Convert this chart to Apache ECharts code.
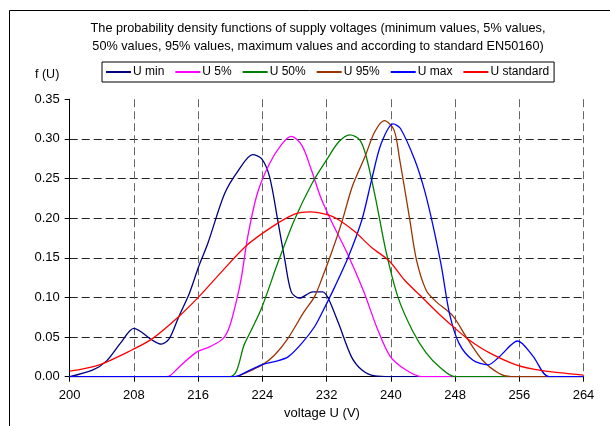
<!DOCTYPE html>
<html>
<head>
<meta charset="utf-8">
<script src="https://cdn.jsdelivr.net/npm/echarts@6/dist/echarts.min.js"></script>
<style>html,body{margin:0;padding:0;background:#fff;}#c{width:610px;height:426px;}</style>
</head>
<body>
<div id="c"></div>
<script>
const titleLines = ['The probability density functions of supply voltages (minimum values, 5% values,', '50% values, 95% values, maximum values and according to standard EN50160)'];
const xTicks = [200, 208, 216, 224, 232, 240, 248, 256, 264];
const yTicks = [0, 0.05, 0.10, 0.15, 0.20, 0.25, 0.30, 0.35];
const seriesNames = ['U min', 'U 5%', 'U 50%', 'U 95%', 'U max', 'U standard'];

const uMin = [[200,0],[202.9,0.0085],[204.6,0.020],[206.3,0.042],[208,0.061],[210.3,0.046],[211.4,0.041],[212.4,0.048],[213.6,0.076],[214.9,0.105],[216.1,0.140],[217.2,0.168],[219.3,0.231],[221,0.260],[222.8,0.280],[223.9,0.275],[224.9,0.252],[225.9,0.198],[226.8,0.147],[227.6,0.107],[228.6,0.099],[230.3,0.107],[231.5,0.107],[232.2,0.099],[233.5,0.067],[235.1,0.025],[236.4,0.0085],[238,0.001],[240,0],[264,0]];
const u5 = [[200,0],[212.1,0],[213.7,0.013],[215.8,0.031],[217.5,0.038],[219.1,0.048],[219.9,0.063],[220.8,0.097],[221.4,0.126],[222.2,0.178],[223.4,0.232],[224.9,0.269],[226.4,0.293],[227.6,0.303],[228.9,0.292],[230.1,0.261],[231.2,0.228],[232.6,0.196],[234.6,0.155],[236.6,0.108],[238.3,0.061],[239.9,0.026],[241.8,0.009],[243.8,0],[264,0]];
const u50 = [[200,0],[219.9,0],[221.8,0.042],[223.8,0.084],[225.9,0.143],[228,0.198],[230.2,0.244],[232.1,0.275],[233.5,0.296],[234.9,0.305],[236.1,0.299],[236.9,0.279],[238.1,0.225],[239.4,0.158],[240.9,0.100],[242.7,0.058],[244.4,0.030],[246.1,0.012],[248,0],[264,0]];
const u95 = [[200,0],[220.5,0],[222.2,0.006],[224.0,0.015],[225.5,0.027],[227.1,0.047],[229.2,0.082],[230.5,0.101],[231.5,0.126],[232.6,0.156],[233.9,0.195],[235.2,0.240],[236.8,0.278],[238.0,0.309],[239.2,0.323],[240.4,0.311],[241.1,0.274],[242.3,0.202],[243.2,0.147],[244.4,0.109],[245.6,0.095],[247.7,0.077],[249.4,0.050],[251.4,0.021],[253.5,0.004],[255,0],[264,0]];
const uMax = [[200,0],[220.5,0],[222.2,0.007],[223.9,0.015],[225.5,0.019],[227.2,0.025],[228.9,0.042],[230.5,0.063],[231.4,0.080],[233.0,0.113],[234.7,0.151],[236.4,0.198],[237.6,0.248],[238.8,0.294],[240.3,0.319],[241.2,0.313],[243.0,0.273],[244.2,0.235],[245.2,0.193],[246.3,0.139],[247.3,0.080],[248.5,0.042],[250.2,0.021],[252.1,0.015],[253.5,0.025],[255.8,0.045],[257.7,0.026],[259.7,0],[264,0]];
const uStd = [[200,0.007],[203.7,0.015],[207.8,0.034],[210.3,0.048],[213.6,0.076],[216.1,0.101],[218.8,0.131],[222.1,0.166],[225.2,0.189],[228,0.205],[230.0,0.208],[232.2,0.204],[233.5,0.198],[235.5,0.183],[237.6,0.163],[239.8,0.146],[241.7,0.122],[243.7,0.102],[245.9,0.080],[248,0.061],[249.8,0.046],[252.3,0.030],[255.6,0.015],[258.9,0.0076],[264,0.002]];

const seriesData = [uMin, u5, u50, u95, uMax, uStd];
const colors = ['#000080', '#FF00FF', '#008000', '#993300', '#0000FF', '#FF0000'];

const chart = echarts.init(document.getElementById('c'), null, {renderer: 'canvas'});
const font = 'Liberation Sans, Arial, sans-serif';
chart.setOption({
  animation: false,
  textStyle: {fontFamily: font},
  grid: {left: 69.7, right: 26.5, top: 99.2, bottom: 49.3, containLabel: false},
  legend: {
    left: 102, top: 62,
    data: seriesNames,
    itemWidth: 25, itemHeight: 2, itemGap: 11,
    padding: [4, 5, 4, 4],
    borderColor: '#000', borderWidth: 1,
    textStyle: {fontSize: 12, color: '#000', fontFamily: font, padding: [0, 0, 0, -3]},
    icon: 'rect'
  },
  graphic: [
    {type: 'polyline', shape: {points: [[9.5, 426], [9.5, 10.5], [610, 10.5]]}, style: {stroke: '#000', lineWidth: 1, fill: null}, silent: true},
    {type: 'text', style: {text: titleLines.join('\n'), x: 318, y: 20, textAlign: 'center', fontSize: 12.7, lineHeight: 17.5, fill: '#000', fontFamily: font}},
    {type: 'text', style: {text: 'f (U)', x: 35, y: 68, fontSize: 12.5, fill: '#000', fontFamily: font}},
    {type: 'text', style: {text: 'voltage U (V)', x: 322, y: 407, textAlign: 'center', fontSize: 13, fill: '#000', fontFamily: font}}
  ],
  xAxis: {
    type: 'value', min: xTicks[0], max: xTicks[xTicks.length - 1], interval: 8,
    axisLine: {show: true, lineStyle: {color: '#000', width: 1}},
    axisTick: {show: true, inside: false, length: 5, lineStyle: {color: '#000'}},
    axisLabel: {fontSize: 13, color: '#000', margin: 12, fontFamily: font},
    splitLine: {show: true, lineStyle: {color: '#666', type: [8, 4], width: 1}}
  },
  yAxis: {
    type: 'value', min: yTicks[0], max: yTicks[yTicks.length - 1], interval: 0.05,
    axisLine: {show: true, lineStyle: {color: '#000', width: 1}},
    axisTick: {show: true, inside: false, length: 5, lineStyle: {color: '#000'}},
    axisLabel: {fontSize: 13, color: '#000', margin: 10, fontFamily: font, formatter: v => v.toFixed(2)},
    splitLine: {show: true, showMaxLine: false, lineStyle: {color: '#222', type: [8, 4], width: 1}}
  },
  series: seriesNames.map((n, i) => ({
    name: n, type: 'line', data: seriesData[i], smooth: 0.3, symbol: 'none',
    lineStyle: {color: colors[i], width: 1.3}, itemStyle: {color: colors[i]}
  }))
});
</script>
</body>
</html>
